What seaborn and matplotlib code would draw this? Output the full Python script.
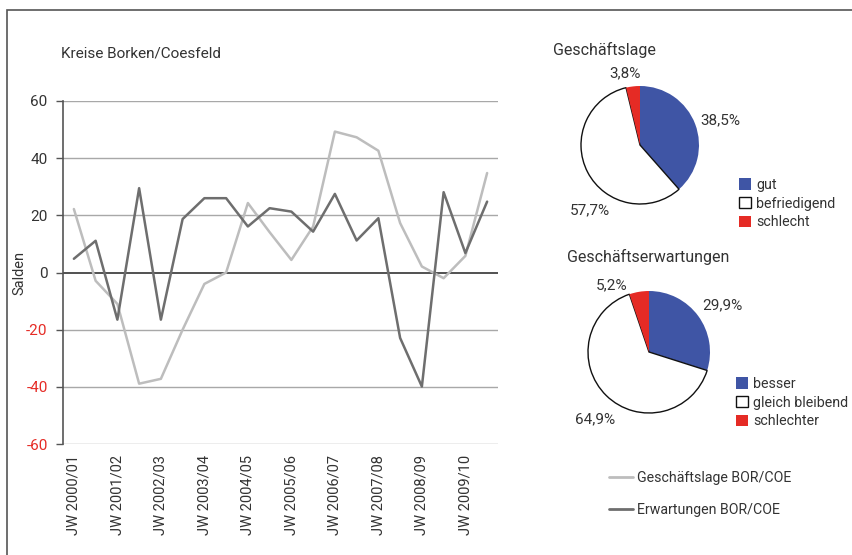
import numpy as np
import pandas as pd
import matplotlib
matplotlib.use('Agg')
import matplotlib.pyplot as plt
import seaborn as sns
from matplotlib.patches import Patch, Rectangle
from matplotlib.lines import Line2D

# Salden, zwei Umfragen pro Jahr (Frühjahr/Herbst)
lage = [22.2, -2.9, -11, -38.9, -37.2, -20, -4, 0, 24.3, 14.1,
        4.4, 16.1, 49.3, 47.3, 42.6, 17.3, 2.1, -2, 5.8, 34.8]
erwartung = [4.8, 11.1, -16.5, 29.5, -16.5, 18.7, 26, 26, 16.1, 22.5,
             21.3, 14.3, 27.5, 11.2, 19, -22.9, -39.9, 28.1, 6.8, 24.8]
jahre = ['JW 2000/01', 'JW 2001/02', 'JW 2002/03', 'JW 2003/04', 'JW 2004/05',
         'JW 2005/06', 'JW 2006/07', 'JW 2007/08', 'JW 2008/09', 'JW 2009/10']
yticks = [-60, -40, -20, 0, 20, 40, 60]

lage_namen = ['gut', 'befriedigend', 'schlecht']
lage_werte = [38.5, 57.7, 3.8]
erw_namen = ['besser', 'gleich bleibend', 'schlechter']
erw_werte = [29.9, 64.9, 5.2]

BLUE = '#3f55a5'
RED = '#e52b25'
LIGHT = '#bdbdbd'
DARK = '#6e6e6e'

sns.set_style('white')
plt.rcParams['font.family'] = ['Roboto', 'DejaVu Sans']

W, H = 853, 555
fig = plt.figure(figsize=(W / 100, H / 100), dpi=100)

def box(l, t, r, b):
    return [l / W, 1 - b / H, (r - l) / W, (b - t) / H]

# frame round the whole chart
fig.add_artist(Rectangle((7.5 / W, -0.1), 1.2, 1.1 - 9.5 / H, transform=fig.transFigure,
                         fill=False, edgecolor='#555555', lw=1.2))

# --- line chart
ax = fig.add_axes(box(63, 101, 498, 444))
n = len(lage)
df = pd.DataFrame({'x': list(range(n)) * 2,
                   'Saldo': lage + erwartung,
                   'Reihe': ['Geschäftslage BOR/COE'] * n + ['Erwartungen BOR/COE'] * n})
sns.lineplot(data=df, x='x', y='Saldo', hue='Reihe', ax=ax, legend=False,
             palette={'Geschäftslage BOR/COE': LIGHT, 'Erwartungen BOR/COE': DARK}, lw=1.8)
ax.set_xlim(-0.5, n - 0.5)
ax.set_ylim(-60, 60)
ax.set_yticks(yticks)
ax.set_yticklabels([str(v) for v in yticks], fontsize=11)
for lab, v in zip(ax.get_yticklabels(), yticks):
    lab.set_color(RED if v < 0 else '#333333')
ax.set_xticks(range(0, n, 2))
ax.set_xticklabels(jahre, rotation=90, fontsize=10.5, color='#333333')
ax.tick_params(axis='x', length=0, pad=8)
ax.tick_params(axis='y', length=5, width=1, color='#555555', direction='out', left=True, pad=6)
for v in yticks:
    if v != 0:
        ax.axhline(v, color='#a8a8a8', lw=1, zorder=0)
ax.axhline(0, color='#222222', lw=1.1, zorder=1)
for s in ['top', 'right', 'bottom']:
    ax.spines[s].set_visible(False)
ax.spines['left'].set_color('#555555')
ax.spines['left'].set_linewidth(1.2)
ax.set_xlabel('')
ax.set_ylabel('Salden', fontsize=10.5, color='#333333')
ax.yaxis.set_label_coords(-0.083, 0.5)

fig.text(61 / W, 1 - 53 / H, 'Kreise Borken/Coesfeld', fontsize=11, color='#333333', va='center')

# --- pies
def pie(center, r, werte, namen, title, title_xy, label_pos, leg_xy):
    cx, cy = center
    pa = fig.add_axes(box(cx - r, cy - r, cx + r, cy + r))
    wedges, _ = pa.pie(werte, colors=[BLUE, 'white', RED], startangle=90, counterclock=False,
                       radius=1, wedgeprops=dict(linewidth=0))
    wedges[1].set_edgecolor('#111111')
    wedges[1].set_linewidth(1)
    pa.set_xlim(-1, 1)
    pa.set_ylim(-1, 1)
    pa.set_aspect('auto')
    for w in wedges:
        w.set_clip_on(False)
    for v, (lx, ly) in zip(werte, label_pos):
        pa.text(lx, ly, f'{v:.1f}%'.replace('.', ','), ha='center', va='center',
                fontsize=11, color='#333333', clip_on=False)
    fig.text(title_xy[0] / W, 1 - title_xy[1] / H, title, fontsize=11.5, color='#333333', va='center')
    handles = [Patch(facecolor=BLUE, edgecolor='none'),
               Patch(facecolor='white', edgecolor='#111111', lw=1),
               Patch(facecolor=RED, edgecolor='none')]
    fig.legend(handles, namen, loc='upper left', bbox_to_anchor=(leg_xy[0] / W, 1 - leg_xy[1] / H),
               bbox_transform=fig.transFigure, frameon=False, fontsize=10.3, borderpad=0,
               borderaxespad=0, handlelength=0.85, handleheight=0.85, handletextpad=0.35,
               labelspacing=0.33, labelcolor='#333333')

pie((640, 145), 59, lage_werte, lage_namen, 'Geschäftslage', (553, 50),
    [(1.36, 0.42), (-0.85, -1.10), (-0.25, 1.22)], (739, 178))
pie((649, 352), 61, erw_werte, erw_namen, 'Geschäftserwartungen', (567, 257),
    [(1.21, 0.77), (-0.89, -1.11), (-0.61, 1.10)], (736, 377))

# line legend
lh = [Line2D([], [], color=LIGHT, lw=2), Line2D([], [], color=DARK, lw=2)]
fig.legend(lh, ['Geschäftslage BOR/COE', 'Erwartungen BOR/COE'], loc='upper left',
           bbox_to_anchor=(609 / W, 1 - 471 / H), bbox_transform=fig.transFigure, frameon=False,
           fontsize=10.2, borderpad=0, borderaxespad=0, handlelength=1.7, handletextpad=0.3,
           labelspacing=1.3, labelcolor='#333333')

fig.savefig('out.png', dpi=100)
